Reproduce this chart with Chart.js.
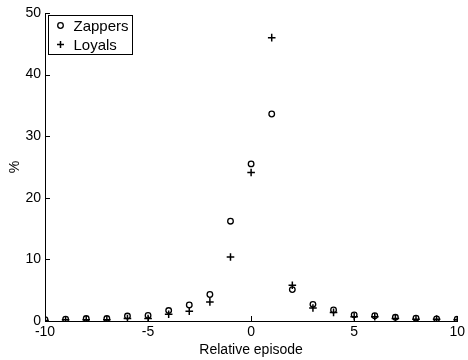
<!DOCTYPE html>
<html>
<head>
<meta charset="utf-8">
<script src="https://cdn.jsdelivr.net/npm/chart.js@4"></script>
<style>
  html, body { margin: 0; padding: 0; background: #fff; }
  #wrap { width: 468px; height: 360px; }
</style>
</head>
<body>
<div id="wrap"><canvas id="chart" width="468" height="360"></canvas></div>
<script>
// episodes relative to the switch, and share (%) for each group
const episodes = [-10, -9, -8, -7, -6, -5, -4, -3, -2, -1, 0, 1, 2, 3, 4, 5, 6, 7, 8, 9, 10];
const zappers = [0.2, 0.3, 0.4, 0.4, 0.8, 0.9, 1.7, 2.6, 4.3, 16.2, 25.5, 33.6, 5.1, 2.7, 1.8, 1.0, 0.85, 0.6, 0.45, 0.35, 0.3];
const loyals = [0.1, 0.2, 0.2, 0.2, 0.4, 0.4, 1.1, 1.6, 3.1, 10.4, 24.1, 46.0, 5.8, 2.1, 1.4, 0.7, 0.7, 0.4, 0.3, 0.3, 0.2];
const xTicks = [-10, -5, 0, 5, 10];
const yTicks = [0, 10, 20, 30, 40, 50];

const FONT = "'Liberation Sans', Arial, Helvetica, sans-serif";

function toPoints(values) {
  return episodes.map((x, i) => ({ x: x, y: values[i] }));
}

// short tick marks pointing into the plot, matlab style
const innerTicks = {
  id: "innerTicks",
  afterDraw(chart) {
    const ctx = chart.ctx;
    const area = chart.chartArea;
    const xs = chart.scales.x;
    const ys = chart.scales.y;
    ctx.save();
    ctx.strokeStyle = "#000";
    ctx.lineWidth = 1;
    ctx.beginPath();
    xTicks.forEach((t) => {
      const px = Math.round(xs.getPixelForValue(t)) + 0.5;
      ctx.moveTo(px, area.bottom);
      ctx.lineTo(px, area.bottom - 5);
    });
    yTicks.forEach((t) => {
      const py = Math.round(ys.getPixelForValue(t)) + 0.5;
      ctx.moveTo(area.left, py);
      ctx.lineTo(area.left + 5, py);
    });
    ctx.stroke();
    ctx.restore();
  },
};

// boxed legend in the upper left corner of the plot
const boxLegend = {
  id: "boxLegend",
  afterDraw(chart) {
    const ctx = chart.ctx;
    const area = chart.chartArea;
    const x0 = area.left + 3.5;
    const y0 = area.top + 2.5;
    const w = 84;
    const h = 39;
    ctx.save();
    ctx.fillStyle = "#fff";
    ctx.fillRect(x0, y0, w, h);
    ctx.strokeStyle = "#000";
    ctx.lineWidth = 1;
    ctx.strokeRect(x0, y0, w, h);
    ctx.font = "15px " + FONT;
    ctx.fillStyle = "#000";
    ctx.textBaseline = "middle";
    chart.data.datasets.forEach((ds, i) => {
      const cy = y0 + 10 + i * 19;
      const mx = x0 + 12;
      ctx.beginPath();
      if (ds.pointStyle === "circle") {
        ctx.lineWidth = 1.3;
        ctx.arc(mx, cy, 2.8, 0, Math.PI * 2);
      } else {
        ctx.lineWidth = 1.5;
        ctx.moveTo(mx - 3.5, cy);
        ctx.lineTo(mx + 3.5, cy);
        ctx.moveTo(mx, cy - 3.5);
        ctx.lineTo(mx, cy + 3.5);
      }
      ctx.stroke();
      ctx.fillText(ds.label, x0 + 25, cy + 1);
    });
    ctx.restore();
  },
};

new Chart(document.getElementById("chart").getContext("2d"), {
  type: "scatter",
  data: {
    datasets: [
      {
        label: "Zappers",
        data: toPoints(zappers),
        pointStyle: "circle",
        pointRadius: 2.8,
        pointBorderWidth: 1.3,
        borderColor: "#000",
        backgroundColor: "rgba(0,0,0,0)",
      },
      {
        label: "Loyals",
        data: toPoints(loyals),
        pointStyle: "cross",
        pointRadius: 3.8,
        pointBorderWidth: 1.5,
        borderColor: "#000",
        backgroundColor: "#000",
      },
    ],
  },
  options: {
    responsive: false,
    animation: false,
    layout: { padding: { left: 0, right: 8, top: 13, bottom: 0 } },
    plugins: {
      legend: { display: false },
      tooltip: { enabled: false },
    },
    scales: {
      x: {
        type: "linear",
        min: -10,
        max: 10,
        afterBuildTicks: (scale) => {
          scale.ticks = xTicks.map((v) => ({ value: v }));
        },
        afterFit: (scale) => {
          scale.height = 39;
        },
        grid: { display: true, drawOnChartArea: false, drawTicks: false },
        border: { display: true, color: "#000", width: 1 },
        ticks: {
          color: "#000",
          padding: 3,
          maxRotation: 0,
          font: { family: FONT, size: 14 },
        },
        title: {
          display: true,
          text: "Relative episode",
          color: "#000",
          padding: { top: 0, bottom: 1 },
          font: { family: FONT, size: 14 },
        },
      },
      y: {
        type: "linear",
        min: 0,
        max: 50,
        afterBuildTicks: (scale) => {
          scale.ticks = yTicks.map((v) => ({ value: v }));
        },
        afterFit: (scale) => {
          scale.width = 45;
        },
        grid: { display: true, drawOnChartArea: false, drawTicks: false },
        border: { display: true, color: "#000", width: 1 },
        ticks: {
          color: "#000",
          padding: 4,
          font: { family: FONT, size: 14 },
        },
        title: {
          display: true,
          text: "%",
          color: "#000",
          padding: { top: 7, bottom: 0 },
          font: { family: FONT, size: 14 },
        },
      },
    },
  },
  plugins: [innerTicks, boxLegend],
});
</script>
</body>
</html>
